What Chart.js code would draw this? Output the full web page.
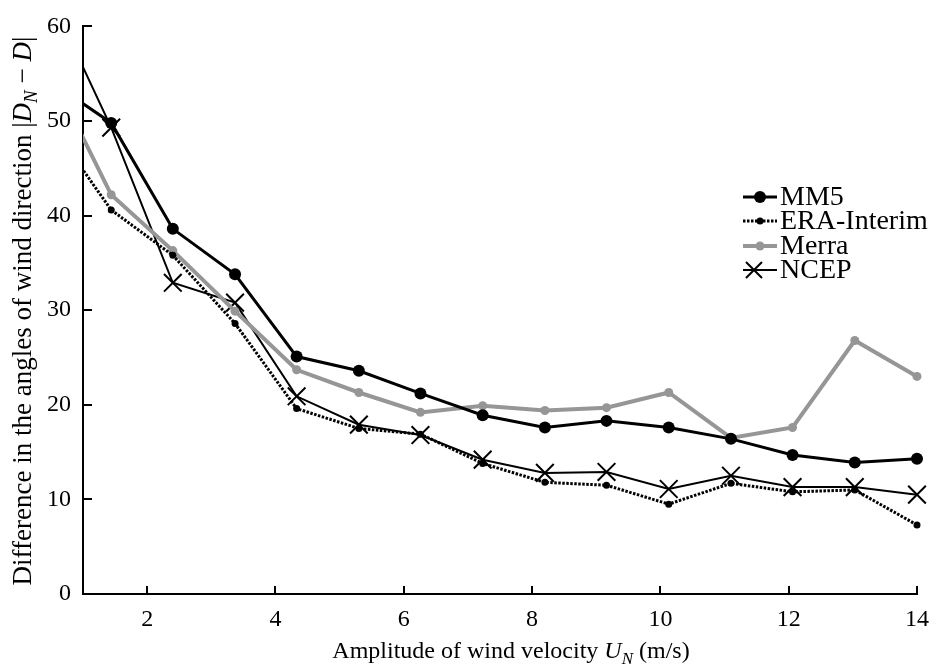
<!DOCTYPE html>
<html>
<head>
<meta charset="utf-8">
<script src="https://cdn.jsdelivr.net/npm/chart.js@4/dist/chart.umd.min.js"></script>
<style>
  html, body { margin: 0; padding: 0; background: #fff; }
  #wrap { width: 940px; height: 664px; position: relative; }
</style>
</head>
<body>
<div id="wrap"><canvas id="wind-chart" width="940" height="664"></canvas></div>
<script>
// ========================================
// DATA
// ========================================

// wind speed bin centres, m/s (first bin lies left of the axis and is clipped)
const windSpeed = [0.47, 1.44, 2.4, 3.37, 4.33, 5.3, 6.26, 7.23, 8.2, 9.16, 10.13, 11.1, 12.06, 13.03, 14.0];

const mm5Values = [54.3, 49.8, 38.6, 33.8, 25.1, 23.6, 21.2, 18.9, 17.6, 18.3, 17.6, 16.4, 14.7, 13.9, 14.3];
const eraValues = [49.9, 40.6, 35.8, 28.6, 19.6, 17.5, 16.9, 13.8, 11.8, 11.5, 9.5, 11.7, 10.8, 11.0, 7.3];
const merraValues = [55.5, 42.2, 36.3, 29.9, 23.7, 21.3, 19.2, 19.9, 19.4, 19.7, 21.3, 16.5, 17.6, 26.8, 23.0];
const ncepValues = [63.4, 49.3, 32.9, 30.8, 20.9, 17.9, 16.8, 14.2, 12.8, 12.9, 11.1, 12.5, 11.3, 11.3, 10.5];

const seriesNames = ['MM5', 'ERA-Interim', 'Merra', 'NCEP'];
const xTickValues = [2, 4, 6, 8, 10, 12, 14];
const yTickValues = [0, 10, 20, 30, 40, 50, 60];

const FONT = "'Liberation Serif', 'DejaVu Serif', serif";
const GRAY = 'rgb(150, 150, 150)';

function toPoints(values) {
  return values.map(function(v, i) { return { x: windSpeed[i], y: v }; });
}

// Draw inward ticks, axis titles with italic/subscript parts, and the legend
const decorPlugin = {
  id: 'decor',
  afterDraw: function(chart) {
    const ctx = chart.ctx;
    const xs = chart.scales.x;
    const ys = chart.scales.y;
    const area = chart.chartArea;

    ctx.save();
    ctx.strokeStyle = '#000';
    ctx.lineWidth = 2;
    xTickValues.forEach(function(v) {
      const px = Math.round(xs.getPixelForValue(v));
      ctx.beginPath();
      ctx.moveTo(px, area.bottom);
      ctx.lineTo(px, area.bottom - 8);
      ctx.stroke();
    });
    yTickValues.forEach(function(v) {
      const py = Math.round(ys.getPixelForValue(v));
      ctx.beginPath();
      ctx.moveTo(area.left, py);
      ctx.lineTo(area.left + 9, py);
      ctx.stroke();
    });
    ctx.restore();

    // x title
    const xParts = [
      { t: 'Amplitude of wind velocity ', f: '24px ' + FONT },
      { t: 'U', f: 'italic 24px ' + FONT },
      { t: 'N', f: 'italic 17px ' + FONT, dy: 6 },
      { t: ' (m/s)', f: '24px ' + FONT }
    ];
    drawParts(ctx, xParts, 511, 650, 0);

    // y title
    const yParts = [
      { t: 'Difference in the angles of wind direction |', f: '27px ' + FONT },
      { t: 'D', f: 'italic 27px ' + FONT },
      { t: 'N', f: 'italic 19px ' + FONT, dy: 6 },
      { t: ' \u2212 ', f: '27px ' + FONT },
      { t: 'D', f: 'italic 27px ' + FONT },
      { t: '|', f: '27px ' + FONT }
    ];
    drawParts(ctx, yParts, 23, 311, -Math.PI / 2);

    // legend
    const rows = [197, 221, 246, 270];
    chart.data.datasets.forEach(function(ds, i) {
      const y = rows[i];
      ctx.save();
      ctx.strokeStyle = ds.borderColor;
      ctx.lineWidth = ds.borderWidth;
      ctx.setLineDash(ds.borderDash || []);
      ctx.beginPath();
      ctx.moveTo(743, y);
      ctx.lineTo(777, y);
      ctx.stroke();
      ctx.setLineDash([]);
      if (ds.pointStyle === 'crossRot') {
        ctx.lineWidth = ds.pointBorderWidth;
        const r = 8;
        ctx.beginPath();
        ctx.moveTo(754 - r, y - r); ctx.lineTo(754 + r, y + r);
        ctx.moveTo(754 - r, y + r); ctx.lineTo(754 + r, y - r);
        ctx.stroke();
      } else {
        ctx.fillStyle = ds.pointBackgroundColor;
        ctx.beginPath();
        ctx.arc(760, y, ds.pointRadius, 0, Math.PI * 2);
        ctx.fill();
      }
      ctx.fillStyle = '#000';
      ctx.font = '28px ' + FONT;
      ctx.textBaseline = 'middle';
      ctx.textAlign = 'left';
      ctx.fillText(ds.label, 780, y + 1);
      ctx.restore();
    });
  }
};

// Draw a run of text pieces centred at (cx, cy), rotated by angle
function drawParts(ctx, parts, cx, cy, angle) {
  ctx.save();
  ctx.translate(cx, cy);
  ctx.rotate(angle);
  ctx.fillStyle = '#000';
  ctx.textBaseline = 'alphabetic';
  ctx.textAlign = 'left';
  let total = 0;
  parts.forEach(function(p) { ctx.font = p.f; total += ctx.measureText(p.t).width; });
  let x = -total / 2;
  parts.forEach(function(p) {
    ctx.font = p.f;
    ctx.fillText(p.t, x, 8 + (p.dy || 0));
    x += ctx.measureText(p.t).width;
  });
  ctx.restore();
}

const ctx = document.getElementById('wind-chart').getContext('2d');

new Chart(ctx, {
  type: 'line',
  data: {
    datasets: [
      {
        label: seriesNames[0],
        data: toPoints(mm5Values),
        borderColor: '#000',
        borderWidth: 3,
        pointRadius: 6,
        pointBackgroundColor: '#000',
        pointBorderWidth: 0,
        clip: { left: 0, top: 0, right: 12, bottom: 12 }
      },
      {
        label: seriesNames[1],
        data: toPoints(eraValues),
        borderColor: '#000',
        borderWidth: 3,
        borderDash: [2.5, 1.5],
        pointRadius: 3.5,
        pointBackgroundColor: '#000',
        pointBorderWidth: 0,
        clip: { left: 0, top: 0, right: 12, bottom: 12 }
      },
      {
        label: seriesNames[2],
        data: toPoints(merraValues),
        borderColor: GRAY,
        borderWidth: 4,
        pointRadius: 4.5,
        pointBackgroundColor: GRAY,
        pointBorderWidth: 0,
        clip: { left: 0, top: 0, right: 12, bottom: 12 }
      },
      {
        label: seriesNames[3],
        data: toPoints(ncepValues),
        borderColor: '#000',
        borderWidth: 2,
        pointStyle: 'crossRot',
        pointRadius: 12.5,
        pointBorderColor: '#000',
        pointBorderWidth: 2,
        clip: { left: 0, top: 0, right: 14, bottom: 14 }
      }
    ]
  },
  options: {
    responsive: false,
    animation: false,
    events: [],
    layout: { padding: { left: 0, right: 20, top: 21, bottom: 0 } },
    plugins: {
      legend: { display: false },
      tooltip: { enabled: false }
    },
    elements: { line: { tension: 0 } },
    scales: {
      x: {
        type: 'linear',
        min: 1,
        max: 14,
        afterBuildTicks: function(axis) {
          axis.ticks = xTickValues.map(function(v) { return { value: v }; });
        },
        afterFit: function(axis) { axis.height = 70; },
        grid: { display: false, drawTicks: false },
        border: { display: true, color: '#000', width: 2 },
        ticks: {
          padding: 11,
          color: '#000',
          font: { family: FONT, size: 24 },
          maxRotation: 0
        }
      },
      y: {
        min: 0,
        max: 60,
        afterBuildTicks: function(axis) {
          axis.ticks = yTickValues.map(function(v) { return { value: v }; });
        },
        afterFit: function(axis) { axis.width = 83; },
        grid: { display: false, drawTicks: false },
        border: { display: true, color: '#000', width: 2 },
        ticks: {
          padding: 12,
          color: '#000',
          font: { family: FONT, size: 24 }
        }
      }
    }
  },
  plugins: [decorPlugin]
});
</script>
</body>
</html>
